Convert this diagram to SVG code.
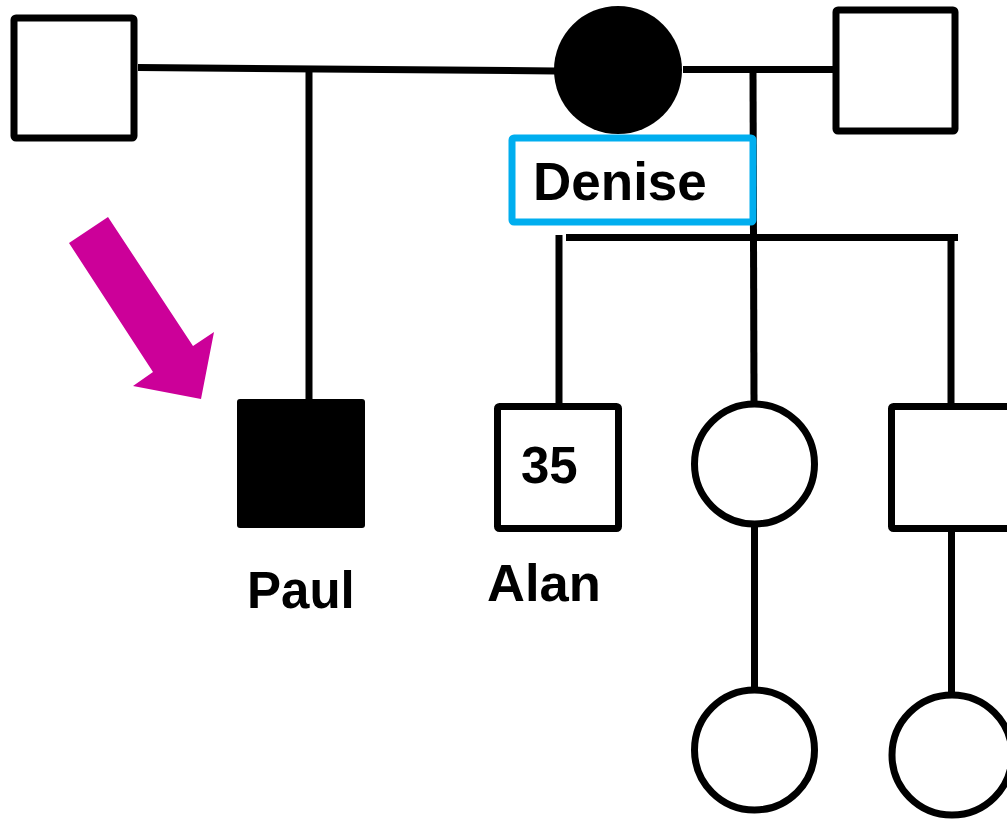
<svg xmlns="http://www.w3.org/2000/svg" width="1007" height="819" viewBox="0 0 1007 819">
<style>
.ln{stroke:#000;stroke-width:7;fill:none}
.nd{stroke:#000;stroke-width:7;fill:#fff;stroke-linejoin:round}
.lbl{font-family:"Liberation Sans",Arial,sans-serif;font-weight:bold;fill:#000}
</style>
<rect width="1007" height="819" fill="#fff"/>
<g id="connectors">
<line class="ln" x1="138" y1="67.5" x2="556" y2="71"/>
<line class="ln" x1="309" y1="68" x2="309" y2="401"/>
<line class="ln" x1="683" y1="69.5" x2="837" y2="69.5"/>
<line class="ln" x1="753" y1="69" x2="754" y2="402"/>
<line class="ln" x1="566" y1="237.5" x2="958" y2="237.5"/>
<line class="ln" x1="559" y1="235" x2="559" y2="406"/>
<line class="ln" x1="951" y1="237" x2="951" y2="406"/>
<line class="ln" x1="754.5" y1="527" x2="754.5" y2="688"/>
<line class="ln" x1="951.5" y1="531" x2="951.5" y2="694"/>
</g>
<g id="father1"><rect class="nd" x="14" y="18" width="120" height="120" rx="2"/></g>
<g id="denise-node"><circle cx="618" cy="70" r="64" fill="#000"/></g>
<g id="father2"><rect class="nd" x="836" y="10" width="119" height="121" rx="2"/></g>
<g id="denise-label">
<rect x="512" y="138" width="241" height="84" rx="2" fill="#fff" stroke="#00AEEF" stroke-width="7"/>
<text class="lbl" x="533" y="200" font-size="53">Denise</text>
</g>
<g id="arrow"><polygon points="69,243 108,217 193,346 214,332 201,399 133,386 153,372" fill="#CC0099"/></g>
<g id="paul">
<rect x="237" y="399" width="128" height="129" rx="3" fill="#000"/>
<text class="lbl" x="247" y="608" font-size="51">Paul</text>
</g>
<g id="alan">
<rect class="nd" x="497.5" y="406.5" width="121" height="122" rx="2"/>
<text class="lbl" x="521" y="483" font-size="51">35</text>
<text class="lbl" x="487" y="601" font-size="52.5">Alan</text>
</g>
<g id="daughter1"><circle class="nd" cx="754.5" cy="464" r="60"/></g>
<g id="son2"><rect class="nd" x="891.5" y="406.5" width="121" height="122" rx="2"/></g>
<g id="granddaughter1"><circle class="nd" cx="754.5" cy="750" r="60"/></g>
<g id="granddaughter2"><circle class="nd" cx="952" cy="755" r="60"/></g>
</svg>
